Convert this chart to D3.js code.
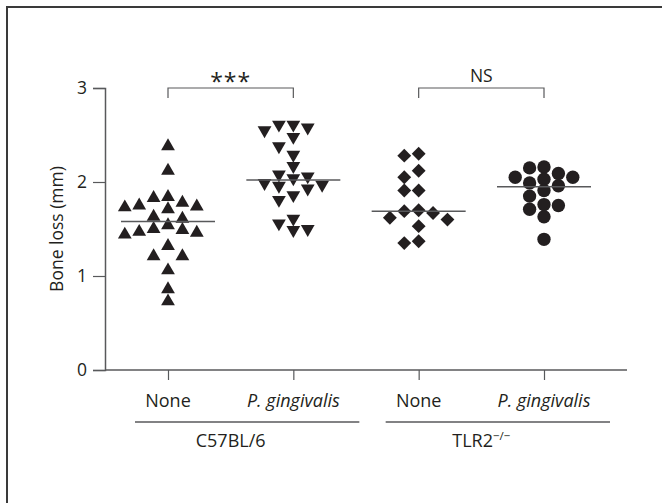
<!DOCTYPE html>
<html>
<head>
<meta charset="utf-8">
<script src="https://cdn.jsdelivr.net/npm/d3@7"></script>
<style>
  body { margin: 0; background: #fff; }
  text { font-family: "Open Sans", "Noto Sans", sans-serif; fill: #231f20; }
</style>
</head>
<body>
<div id="chart"></div>
<script>
// values (bone loss, mm)
const strains = ["C57BL/6", "TLR2"];
const treatments = ["None", "P. gingivalis"];
const groups = ["C57BL/6|None", "C57BL/6|P. gingivalis", "TLR2|None", "TLR2|P. gingivalis"];
const c57None = [2.38, 2.12, 1.83, 1.84, 1.71, 1.74, 1.75, 1.78, 1.73, 1.61, 1.63, 1.49,
                 1.46, 1.54, 1.50, 1.44, 1.47, 1.32, 1.21, 1.21, 1.06, 0.86, 0.73];
const c57Pg = [2.61, 2.58, 2.48, 2.55, 2.61, 2.38, 2.29, 2.17, 2.08, 2.04, 2.06,
               1.96, 1.99, 1.93, 1.97, 1.86, 1.81, 1.56, 1.49, 1.50, 1.61];
const tlr2None = [2.28, 2.30, 2.12, 2.05, 1.91, 1.91, 1.69, 1.70, 1.60, 1.62, 1.67, 1.53, 1.35, 1.37];
const tlr2Pg = [2.15, 2.03, 2.05, 1.96, 2.05, 2.09, 2.16, 1.99, 1.91, 1.85, 1.76, 1.71, 1.75, 1.63, 1.39];
const medians = [1.58, 2.02, 1.69, 1.95];
const yTicks = [0, 1, 2, 3];
const comparisons = [["C57BL/6|None", "C57BL/6|P. gingivalis", "***"],
                     ["TLR2|None", "TLR2|P. gingivalis", "NS"]];

const series = [c57None, c57Pg, tlr2None, tlr2Pg];

const width = 662, height = 503;
const ink = "#231f20", lineCol = "#58595b";

const svg = d3.select("#chart").append("svg")
    .attr("width", width)
    .attr("height", height);

// outer frame
svg.append("rect")
    .attr("x", 7).attr("y", 7)
    .attr("width", 720).attr("height", 600)
    .attr("fill", "none")
    .attr("stroke", "#3a3a3a")
    .attr("stroke-width", 2);

const y = d3.scaleLinear().domain([0, 3]).range([370, 88]);
const x = d3.scalePoint().domain(groups).range([168, 544]);
const axisLeftX = 105, axisRightX = 627;

// y axis
const yAxis = svg.append("g")
    .attr("transform", `translate(${axisLeftX},0)`)
    .call(d3.axisLeft(y).tickValues(yTicks).tickFormat(d3.format("d")).tickSize(12).tickPadding(6));
yAxis.select(".domain").attr("stroke", lineCol).attr("stroke-width", 1.5);
yAxis.selectAll(".tick line").attr("stroke", lineCol).attr("stroke-width", 1.2);
yAxis.selectAll(".tick text").style("font-size", "17.5px").attr("fill", ink);

svg.append("text")
    .attr("transform", `translate(63,${(y(0) + y(3)) / 2}) rotate(-90)`)
    .attr("text-anchor", "middle")
    .style("font-size", "17.5px")
    .text("Bone loss (mm)");

// x axis
const xAxis = svg.append("g")
    .attr("transform", `translate(0,${y(0)})`)
    .call(d3.axisBottom(x).tickSize(10).tickFormat(""));
xAxis.select(".domain").remove();
xAxis.selectAll(".tick line").attr("stroke", lineCol).attr("stroke-width", 1.2);
xAxis.append("line")
    .attr("x1", axisLeftX).attr("x2", axisRightX)
    .attr("y1", 0).attr("y2", 0)
    .attr("stroke", lineCol).attr("stroke-width", 1.5);

svg.selectAll(".treat-label")
    .data(groups)
    .join("text")
    .attr("class", "treat-label")
    .attr("x", d => x(d))
    .attr("y", 407)
    .attr("text-anchor", "middle")
    .style("font-size", "18px")
    .style("font-style", d => d.split("|")[1] === "None" ? "normal" : "italic")
    .text(d => d.split("|")[1]);

// strain group lines + labels
strains.forEach(s => {
    const a = x(s + "|" + treatments[0]), b = x(s + "|" + treatments[1]);
    svg.append("line")
        .attr("x1", a - 33).attr("x2", b + 66)
        .attr("y1", 422).attr("y2", 422)
        .attr("stroke", lineCol).attr("stroke-width", 1.5);
    const t = svg.append("text")
        .attr("x", (a + b) / 2)
        .attr("y", 447)
        .attr("text-anchor", "middle")
        .style("font-size", "18px")
        .text(s);
    if (s === "TLR2") {
        t.append("tspan")
            .attr("dy", -7)
            .style("font-size", "11.5px")
            .text("\u2212/\u2212");
    }
});

// significance brackets
comparisons.forEach(([g1, g2, label]) => {
    const a = x(g1), b = x(g2), top = y(3);
    svg.append("path")
        .attr("d", `M${a},${top + 10}V${top}H${b}V${top + 10}`)
        .attr("fill", "none")
        .attr("stroke", lineCol)
        .attr("stroke-width", 1.2);
    svg.append("text")
        .attr("x", (a + b) / 2)
        .attr("y", label === "***" ? 90 : 82)
        .attr("text-anchor", "middle")
        .style("font-size", label === "***" ? "23px" : "17.5px")
        .style("letter-spacing", label === "***" ? "1px" : null)
        .text(label);
});

// simple slotted swarm layout
const slotStep = 14.4;
function swarm(values) {
    const order = d3.range(values.length).sort((i, j) => values[j] - values[i]);
    const placed = [];
    order.forEach(i => {
        const py = y(values[i]);
        for (let k = 0; k < 20; k++) {
            const slot = k === 0 ? 0 : (k % 2 ? -Math.ceil(k / 2) : Math.ceil(k / 2));
            if (!placed.some(p => p.slot === slot && Math.abs(p.py - py) < 11)) {
                placed.push({ v: values[i], slot: slot, py: py });
                break;
            }
        }
    });
    return placed;
}

const shapes = [
    { type: d3.symbolTriangle, size: 82, rotate: 0 },
    { type: d3.symbolTriangle, size: 82, rotate: 180 },
    { type: d3.symbolSquare, size: 96, rotate: 45 },
    { type: d3.symbolCircle, size: 140, rotate: 0 }
];

series.forEach((vals, gi) => {
    const cx = x(groups[gi]);
    const pts = swarm(vals);
    const sym = d3.symbol().type(shapes[gi].type).size(shapes[gi].size);
    svg.append("g")
        .selectAll("path")
        .data(pts)
        .join("path")
        .attr("d", sym)
        .attr("transform", d => `translate(${cx + d.slot * slotStep},${y(d.v)}) rotate(${shapes[gi].rotate})`)
        .attr("fill", ink);

    svg.append("line")
        .attr("x1", cx - 47).attr("x2", cx + 47)
        .attr("y1", y(medians[gi])).attr("y2", y(medians[gi]))
        .attr("stroke", lineCol)
        .attr("stroke-width", 1.5);
});
</script>
</body>
</html>
